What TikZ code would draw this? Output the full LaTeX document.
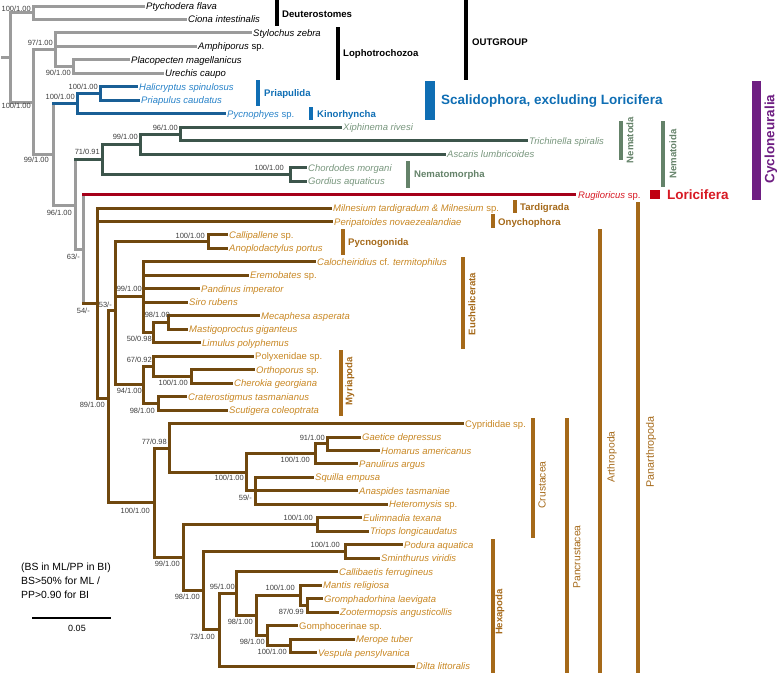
\documentclass[tikz,border=0pt]{standalone}
\usepackage{fontspec}
\setmainfont{Liberation Sans}
\usepackage{tikz}
\usetikzlibrary{calc}
\definecolor{outGray}  {RGB}{155,155,155}
\definecolor{scalLine} {RGB}{ 25, 95,150}
\definecolor{scalText} {RGB}{ 40,130,200}
\definecolor{scalBar}  {RGB}{ 15,110,180}
\definecolor{nemaLine} {RGB}{ 60, 85, 75}
\definecolor{nemaText} {RGB}{120,150,125}
\definecolor{nemaBar}  {RGB}{100,130,105}
\definecolor{loriLine} {RGB}{165,  0, 25}
\definecolor{loriText} {RGB}{215, 25, 35}
\definecolor{panLine}  {RGB}{112, 72, 14}
\definecolor{panText}  {RGB}{200,135, 35}
\definecolor{panBar}   {RGB}{165,105, 25}
\definecolor{cycloPurple}{RGB}{110,30,130}
\definecolor{bsGray}   {RGB}{ 60, 60, 60}
\newcommand{\spn}{\textup{sp.}}

\begin{document}
\begin{tikzpicture}[x=1pt,y=-1pt,
          br/.style={line width=3pt,line cap=rect},
          sp/.style={anchor=west,inner sep=3pt,text height=7pt,text depth=0pt,
                     font=\fontsize{9.5}{11}\selectfont\itshape},
          bs/.style={anchor=east,inner sep=0pt,text height=5.5pt,text depth=0pt,
                     font=\fontsize{7.5}{8}\selectfont,text=bsGray},
          clade/.style={anchor=west,inner sep=0pt,text height=7pt,text depth=0pt,
                        font=\fontsize{9.6}{11}\selectfont\bfseries},
          vclade/.style={rotate=90,inner sep=0pt,font=\fontsize{9.6}{11}\selectfont\bfseries},
          vplain/.style={rotate=90,inner sep=0pt,font=\fontsize{10.3}{12}\selectfont},
          bar/.style={line width=3.6pt},
        ]
        \useasboundingbox (0,0) rectangle (777,673);

        % TAXA (tip x / row)
        \foreach \nm/\tx/\i/\s in {Pty/143/1/Ptychodera flava, Cio/185/2/Ciona intestinalis,
            Sty/250/3/Stylochus zebra, Amp/195/4/Amphiporus \spn,
            Pla/128/5/Placopecten magellanicus, Ure/162/6/Urechis caupo}
          \node[sp] (\nm) at (\tx,{6+13.47*(\i-1)}) {\s};
        \foreach \nm/\tx/\i/\s in {Hal/136/7/Halicryptus spinulosus, Pri/138/8/Priapulus caudatus,
            Pyn/224/9/Pycnophyes \spn}
          \node[sp,text=scalText] (\nm) at (\tx,{6+13.47*(\i-1)}) {\s};
        \foreach \nm/\tx/\i/\s in {Xip/340/10/Xiphinema rivesi, Tri/526/11/Trichinella spiralis,
            Asc/444/12/Ascaris lumbricoides, Cho/305/13/Chordodes morgani,
            Gor/305/14/Gordius aquaticus}
          \node[sp,text=nemaText] (\nm) at (\tx,{6+13.47*(\i-1)}) {\s};
        \node[sp,text=loriText] (Rug) at (575,{6+13.47*14}) {Rugiloricus \spn};
        \foreach \nm/\tx/\i/\s in {Mil/330/16/Milnesium tardigradum \& Milnesium \spn,
            Per/331/17/Peripatoides novaezealandiae, Cpa/226/18/Callipallene \spn,
            Ano/226/19/Anoplodactylus portus, Clc/314/20/Calocheiridius \textup{cf.} termitophilus,
            Ere/247/21/Eremobates \spn, Pnd/198/22/Pandinus imperator, Sir/186/23/Siro rubens,
            Mec/258/24/Mecaphesa asperata, Mas/186/25/Mastigoproctus giganteus,
            Lim/199/26/Limulus polyphemus, Plx/252/27/\textup{Polyxenidae sp.},
            Ort/253/28/Orthoporus \spn, Che/231/29/Cherokia georgiana,
            Cra/185/30/Craterostigmus tasmanianus, Scu/226/31/Scutigera coleoptrata,
            Cyp/462/32/\textup{Cyprididae sp.}, Gae/359/33/Gaetice depressus,
            Hom/378/34/Homarus americanus, Pnl/356/35/Panulirus argus,
            Squ/312/36/Squilla empusa, Ana/356/37/Anaspides tasmaniae,
            Het/386/38/Heteromysis \spn, Eul/360/39/Eulimnadia texana,
            Trp/367/40/Triops longicaudatus, Pod/401/41/Podura aquatica,
            Smi/378/42/Sminthurus viridis, Clb/336/43/Callibaetis ferrugineus,
            Man/320/44/Mantis religiosa, Grm/321/45/Gromphadorhina laevigata,
            Zoo/337/46/Zootermopsis angusticollis, Gom/296/47/\textup{Gomphocerinae sp.},
            Mer/353/48/Merope tuber, Ves/315/49/Vespula pensylvanica,
            Dil/413/50/Dilta littoralis}
          \node[sp,text=panText] (\nm) at (\tx,{6+13.47*(\i-1)}) {\s};

        % INTERNAL NODES
        \coordinate (root0) at (2,57.4);
        \coordinate (nRoot) at (10,57.4);
        \coordinate (nDeu) at (33,12.7);
        \coordinate (nPro) at (33,102.1);
        \coordinate (nLop) at (55,49.8);
        \coordinate (nUre) at (73,66.6);
        \coordinate (nEcd) at (53,154.5);
        \coordinate (nSca) at (77,103.7);
        \coordinate (nPrp) at (100,93.6);
        \coordinate (nNpl) at (75,205.3);
        \coordinate (nNtd) at (102,159.2);
        \coordinate (nNmd) at (140,144.1);
        \coordinate (nXip) at (180,134);
        \coordinate (nNmm) at (290,174.4);
        \coordinate (nLpa) at (83,249);
        \coordinate (nPan) at (97,303);
        \coordinate (nArt) at (108,398);
        \coordinate (nMch) at (115,310);
        \coordinate (nPyc) at (208,241.7);
        \coordinate (nEuc) at (143,296);
        \coordinate (nArc) at (153,332.7);
        \coordinate (nMec) at (168,322.5);
        \coordinate (nMyr) at (143,384.8);
        \coordinate (nDip) at (153,366.3);
        \coordinate (nOrt) at (191,376.4);
        \coordinate (nChi) at (158,403.4);
        \coordinate (nPcr) at (154,502.8);
        \coordinate (nCyp) at (169,448);
        \coordinate (nMal) at (246,472.4);
        \coordinate (nDec) at (315,453.9);
        \coordinate (nBra) at (327,443.8);
        \coordinate (nSqu) at (255,490.9);
        \coordinate (nAlo) at (183,557.6);
        \coordinate (nBrp) at (317,524.6);
        \coordinate (nHex) at (203,590.7);
        \coordinate (nCol) at (345,551.5);
        \coordinate (nIns) at (219,629.8);
        \coordinate (nPte) at (236,593.6);
        \coordinate (nNeo) at (256,615.5);
        \coordinate (nPol) at (300,595.3);
        \coordinate (nGro) at (307,605.4);
        \coordinate (nHol) at (267,635.7);
        \coordinate (nMer) at (290,645.8);

        % OUTGROUP + BACKBONE
        \draw[br,outGray](root0)--(nRoot)
          (nRoot|-nDeu)--(nRoot|-nPro)(nRoot|-nDeu)--(nDeu)(nRoot|-nPro)--(nPro)
          (nDeu|-Pty.west)--(nDeu|-Cio.west)(nDeu|-Pty.west)--(Pty.west)(nDeu|-Cio.west)--(Cio.west)
          (nPro|-nLop)--(nPro|-nEcd)(nPro|-nLop)--(nLop)(nPro|-nEcd)--(nEcd)
          (nLop|-Sty.west)--(nLop|-nUre)(nLop|-Sty.west)--(Sty.west)(nLop|-Amp.west)--(Amp.west)
          (nLop|-nUre)--(nUre)
          (nUre|-Pla.west)--(nUre|-Ure.west)(nUre|-Pla.west)--(Pla.west)(nUre|-Ure.west)--(Ure.west)
          (nEcd|-nSca)--(nEcd|-nNpl)(nEcd|-nNpl)--(nNpl)
          (nNpl|-nNtd)--(nNpl|-nLpa)(nNpl|-nLpa)--(nLpa)
          (nLpa|-Rug.west)--(nLpa|-nPan);

        % SCALIDOPHORA
        \draw[br,scalLine](nEcd|-nSca)--(nSca)
          (nSca|-nPrp)--(nSca|-Pyn.west)(nSca|-nPrp)--(nPrp)(nSca|-Pyn.west)--(Pyn.west)
          (nPrp|-Hal.west)--(nPrp|-Pri.west)(nPrp|-Hal.west)--(Hal.west)(nPrp|-Pri.west)--(Pri.west);

        % NEMATOIDA
        \draw[br,nemaLine](nNpl|-nNtd)--(nNtd)
          (nNtd|-nNmd)--(nNtd|-nNmm)(nNtd|-nNmd)--(nNmd)(nNtd|-nNmm)--(nNmm)
          (nNmd|-nXip)--(nNmd|-Asc.west)(nNmd|-nXip)--(nXip)(nNmd|-Asc.west)--(Asc.west)
          (nXip|-Xip.west)--(nXip|-Tri.west)(nXip|-Xip.west)--(Xip.west)(nXip|-Tri.west)--(Tri.west)
          (nNmm|-Cho.west)--(nNmm|-Gor.west)(nNmm|-Cho.west)--(Cho.west)(nNmm|-Gor.west)--(Gor.west);

        % LORICIFERA
        \draw[br,loriLine,line width=2.6pt](nLpa|-Rug.west)--(Rug.west);

        % PANARTHROPODA
        \draw[br,panLine](nLpa|-nPan)--(nPan)
          (nPan|-Mil.west)--(nPan|-nArt)(nPan|-Mil.west)--(Mil.west)(nPan|-Per.west)--(Per.west)
          (nPan|-nArt)--(nArt)
          (nArt|-nMch)--(nArt|-nPcr)(nArt|-nMch)--(nMch)(nArt|-nPcr)--(nPcr)
          (nMch|-nPyc)--(nMch|-nMyr)(nMch|-nPyc)--(nPyc)(nMch|-nEuc)--(nEuc)(nMch|-nMyr)--(nMyr)
          (nPyc|-Cpa.west)--(nPyc|-Ano.west)(nPyc|-Cpa.west)--(Cpa.west)(nPyc|-Ano.west)--(Ano.west)
          (nEuc|-Clc.west)--(nEuc|-nArc)(nEuc|-Clc.west)--(Clc.west)(nEuc|-Ere.west)--(Ere.west)
          (nEuc|-Pnd.west)--(Pnd.west)(nEuc|-Sir.west)--(Sir.west)(nEuc|-nArc)--(nArc)
          (nArc|-nMec)--(nArc|-Lim.west)(nArc|-nMec)--(nMec)(nArc|-Lim.west)--(Lim.west)
          (nMec|-Mec.west)--(nMec|-Mas.west)(nMec|-Mec.west)--(Mec.west)(nMec|-Mas.west)--(Mas.west)
          (nMyr|-nDip)--(nMyr|-nChi)(nMyr|-nDip)--(nDip)(nMyr|-nChi)--(nChi)
          (nDip|-Plx.west)--(nDip|-nOrt)(nDip|-Plx.west)--(Plx.west)(nDip|-nOrt)--(nOrt)
          (nOrt|-Ort.west)--(nOrt|-Che.west)(nOrt|-Ort.west)--(Ort.west)(nOrt|-Che.west)--(Che.west)
          (nChi|-Cra.west)--(nChi|-Scu.west)(nChi|-Cra.west)--(Cra.west)(nChi|-Scu.west)--(Scu.west)
          (nPcr|-nCyp)--(nPcr|-nAlo)(nPcr|-nCyp)--(nCyp)(nPcr|-nAlo)--(nAlo)
          (nCyp|-Cyp.west)--(nCyp|-nMal)(nCyp|-Cyp.west)--(Cyp.west)(nCyp|-nMal)--(nMal)
          (nMal|-nDec)--(nMal|-nSqu)(nMal|-nDec)--(nDec)(nMal|-nSqu)--(nSqu)
          (nDec|-nBra)--(nDec|-Pnl.west)(nDec|-nBra)--(nBra)(nDec|-Pnl.west)--(Pnl.west)
          (nBra|-Gae.west)--(nBra|-Hom.west)(nBra|-Gae.west)--(Gae.west)(nBra|-Hom.west)--(Hom.west)
          (nSqu|-Squ.west)--(nSqu|-Het.west)(nSqu|-Squ.west)--(Squ.west)(nSqu|-Ana.west)--(Ana.west)
          (nSqu|-Het.west)--(Het.west)
          (nAlo|-nBrp)--(nAlo|-nHex)(nAlo|-nBrp)--(nBrp)(nAlo|-nHex)--(nHex)
          (nBrp|-Eul.west)--(nBrp|-Trp.west)(nBrp|-Eul.west)--(Eul.west)(nBrp|-Trp.west)--(Trp.west)
          (nHex|-nCol)--(nHex|-nIns)(nHex|-nCol)--(nCol)(nHex|-nIns)--(nIns)
          (nCol|-Pod.west)--(nCol|-Smi.west)(nCol|-Pod.west)--(Pod.west)(nCol|-Smi.west)--(Smi.west)
          (nIns|-nPte)--(nIns|-Dil.west)(nIns|-nPte)--(nPte)(nIns|-Dil.west)--(Dil.west)
          (nPte|-Clb.west)--(nPte|-nNeo)(nPte|-Clb.west)--(Clb.west)(nPte|-nNeo)--(nNeo)
          (nNeo|-nPol)--(nNeo|-nHol)(nNeo|-nPol)--(nPol)(nNeo|-nHol)--(nHol)
          (nPol|-Man.west)--(nPol|-nGro)(nPol|-Man.west)--(Man.west)(nPol|-nGro)--(nGro)
          (nGro|-Grm.west)--(nGro|-Zoo.west)(nGro|-Grm.west)--(Grm.west)(nGro|-Zoo.west)--(Zoo.west)
          (nHol|-Gom.west)--(nHol|-nMer)(nHol|-Gom.west)--(Gom.west)(nHol|-nMer)--(nMer)
          (nMer|-Mer.west)--(nMer|-Ves.west)(nMer|-Mer.west)--(Mer.west)(nMer|-Ves.west)--(Ves.west);

        % SUPPORT VALUES (BS/PP)
        \node[bs](bDeu) at (31,8.5){100/1.00};
        \node[bs](bPro) at (31,106){100/1.00};
        \node[bs](bLop) at (53,43){97/1.00};
        \node[bs](bUre) at (71,73){90/1.00};
        \node[bs](bPrp) at (98,86.5){100/1.00};
        \node[bs](bSca) at (75,97){100/1.00};
        \node[bs](bEcd) at (49,160){99/1.00};
        \node[bs](bNtd) at (100,152){71/0.91};
        \node[bs](bNmd) at (138,137){99/1.00};
        \node[bs](bXip) at (178,128){96/1.00};
        \node[bs](bNmm) at (284,168){100/1.00};
        \node[bs](bNpl) at (72,213){96/1.00};
        \node[bs](bLpa) at (80,257){63/-};
        \node[bs](bPan) at (90,311){54/-};
        \node[bs](bMch) at (112,305){53/-};
        \node[bs](bPyc) at (205,236){100/1.00};
        \node[bs](bEuc) at (142,289){99/1.00};
        \node[bs](bMec) at (170,315){98/1.00};
        \node[bs](bArc) at (152,339){50/0.98};
        \node[bs](bDip) at (152,360){67/0.92};
        \node[bs](bOrt) at (188,383){100/1.00};
        \node[bs](bMyr) at (142,391){94/1.00};
        \node[bs](bChi) at (155,411){98/1.00};
        \node[bs](bArt) at (105,405){89/1.00};
        \node[bs](bCyp) at (167,442){77/0.98};
        \node[bs](bBra) at (325,438){91/1.00};
        \node[bs](bDec) at (310,460){100/1.00};
        \node[bs](bMal) at (244,478){100/1.00};
        \node[bs](bSqu) at (252,498){59/-};
        \node[bs](bPcr) at (150,511){100/1.00};
        \node[bs](bBrp) at (313,518){100/1.00};
        \node[bs](bCol) at (340,545){100/1.00};
        \node[bs](bAlo) at (180,564){99/1.00};
        \node[bs](bPte) at (235,587){95/1.00};
        \node[bs](bPol) at (295,588){100/1.00};
        \node[bs](bHex) at (200,597){98/1.00};
        \node[bs](bGro) at (304,612){87/0.99};
        \node[bs](bNeo) at (253,622){98/1.00};
        \node[bs](bIns) at (215,637){73/1.00};
        \node[bs](bHol) at (265,642){98/1.00};
        \node[bs](bMer) at (287,652){100/1.00};

        % CLADE BARS
        \draw[bar,black](277,0)--(277,26) (338,27)--(338,80) (466,0)--(466,80);
        \node[clade](cDeu) at (282,14){Deuterostomes};
        \node[clade](cLop) at (343,53){Lophotrochozoa};
        \node[clade](cOut) at (472,42){OUTGROUP};

        \draw[bar,scalBar](258,80)--(258,106) (311,107)--(311,120);
        \fill[scalBar](425,81) rectangle (435,120);
        \node[clade,text=scalBar](cPrp) at (264,93){Priapulida};
        \node[clade,text=scalBar](cKin) at (317,114){Kinorhyncha};
        \node[clade,text=scalBar,font=\fontsize{13.5}{15}\selectfont\bfseries,text height=9.7pt]
          (cSca) at (441,100){Scalidophora, excluding Loricifera};

        \draw[bar,nemaBar](621,121)--(621,160) (663,121)--(663,187) (408,161)--(408,188);
        \node[vclade,text=nemaBar](cNmd) at (630,140){Nematoda};
        \node[vclade,text=nemaBar](cNtd) at (673,154){Nematoida};
        \node[clade,text=nemaBar](cNmm) at (414,174){Nematomorpha};

        \fill[loriLine!70!red](650,190) rectangle (660,199);
        \node[clade,text=loriText,font=\fontsize{13.5}{15}\selectfont\bfseries,text height=9.7pt]
          (cLor) at (667,195){Loricifera};
        \fill[cycloPurple](752,81) rectangle (761,200);
        \node[vclade,text=cycloPurple,font=\fontsize{13.5}{15}\selectfont\bfseries]
          (cCyc) at (771,139){Cycloneuralia};

        \draw[bar,panBar](515,200)--(515,213) (493,214)--(493,228) (343,229)--(343,255)
          (463,257)--(463,349) (341,350)--(341,416) (533,418)--(533,538)
          (567,418)--(567,673) (600,229)--(600,673) (638,202)--(638,673) (493,539)--(493,673);
        \node[clade,text=panBar](cTar) at (520,207){Tardigrada};
        \node[clade,text=panBar](cOny) at (498,222){Onychophora};
        \node[clade,text=panBar](cPyc) at (348,242){Pycnogonida};
        \node[vclade,text=panBar](cEuc) at (472,304){Euchelicerata};
        \node[vclade,text=panBar](cMyr) at (350,381){Myriapoda};
        \node[vplain,text=panBar](cCru) at (542,485){Crustacea};
        \node[vplain,text=panBar](cPcr) at (577,557){Pancrustacea};
        \node[vplain,text=panBar](cArt) at (612,457){Arthropoda};
        \node[vplain,text=panBar,font=\fontsize{10.8}{12}\selectfont](cPar) at (651,452){Panarthropoda};
        \node[vclade,text=panBar](cHex) at (500,612){Hexapoda};

        % LEGEND + SCALE
        \node[anchor=west,inner sep=0pt,align=left,font=\fontsize{10.4}{14}\selectfont]
          (legend) at (21,581){(BS in ML/PP in BI)\\BS>50\% for ML /\\PP>0.90 for BI};
        \coordinate (sb0) at (32,618);
        \coordinate (sb1) at (111,618);
        \draw[line width=1.2pt](sb0)--(sb1);
        \node[font=\fontsize{9}{10}\selectfont,inner sep=0pt](sbl) at (77,628){0.05};
      \end{tikzpicture}
\end{document}
